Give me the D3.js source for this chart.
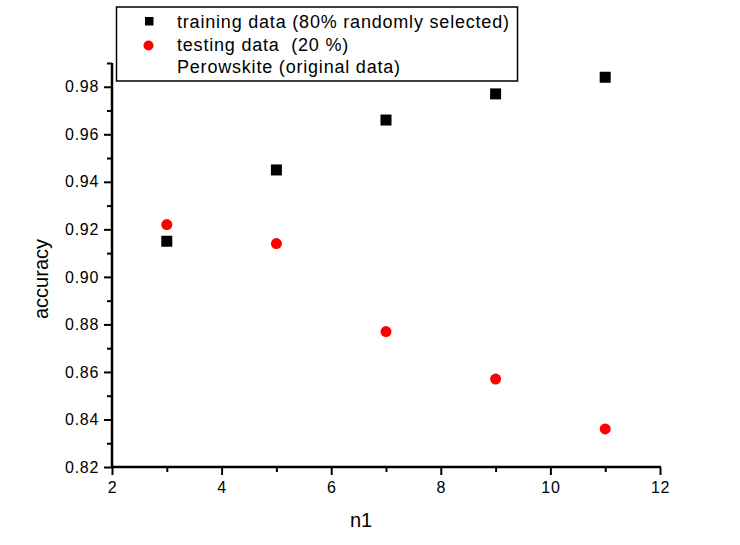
<!DOCTYPE html>
<html>
<head>
<meta charset="utf-8">
<script src="https://cdn.jsdelivr.net/npm/d3@7"></script>
<style>
  body { margin: 0; background: #fff; }
  text { font-family: "Liberation Sans", Arial, sans-serif; fill: #000; }
</style>
</head>
<body>
<svg id="chart" width="740" height="545"></svg>
<script>
// data
const n1 = [3, 5, 7, 9, 11];
const trainAcc = [0.915, 0.945, 0.966, 0.977, 0.984];
const testAcc = [0.922, 0.914, 0.877, 0.857, 0.836];
const legendLabels = ['training data (80% randomly selected)', 'testing data  (20 %)', 'Perowskite (original data)'];
const xTicks = [2, 4, 6, 8, 10, 12];
const yTicks = [0.82, 0.84, 0.86, 0.88, 0.90, 0.92, 0.94, 0.96, 0.98];

const svg = d3.select('#chart');
const mLeft = 112, mRight = 660, mTop = 63, mBottom = 467;

const x = d3.scaleLinear().domain([2, 12]).range([mLeft, mRight]);
const y = d3.scaleLinear().domain([0.82, 0.99]).range([mBottom, mTop]);

// axes (Origin style: left + bottom only, major + minor ticks outward)
let xAxis = svg.append('g').attr('transform', `translate(0,${mBottom})`)
    .call(d3.axisBottom(x).tickValues(xTicks).tickFormat(d3.format('d')).tickSize(8).tickPadding(7));
svg.append('g').attr('transform', `translate(0,${mBottom})`)
    .call(d3.axisBottom(x).tickValues(d3.range(3, 12, 2)).tickFormat('').tickSize(5))
    .select('.domain').remove();

let yAxis = svg.append('g').attr('transform', `translate(${mLeft},0)`)
    .call(d3.axisLeft(y).tickValues(yTicks).tickFormat(d3.format('.2f')).tickSize(8).tickPadding(5));
svg.append('g').attr('transform', `translate(${mLeft},0)`)
    .call(d3.axisLeft(y).tickValues(d3.range(0.83, 0.995, 0.02)).tickFormat('').tickSize(5))
    .select('.domain').remove();

svg.selectAll('.domain').attr('stroke-width', 2.5);
svg.selectAll('.tick line').attr('stroke-width', 2);
svg.selectAll('.tick text')
    .style('font-size', '16px')
    .style('letter-spacing', '0.7px')
    .style('font-family', '"Liberation Sans", Arial, sans-serif');
yAxis.select('.domain').attr('d', `M0,${mBottom + 1}V${mTop}`);
xAxis.select('.domain').attr('d', `M${mLeft},0H${mRight + 1}`);

// axis titles
svg.append('text').attr('x', 361).attr('y', 527).attr('text-anchor', 'middle')
    .style('font-size', '20px').text('n1');
svg.append('text').attr('transform', 'translate(48,279) rotate(-90)')
    .attr('text-anchor', 'middle').style('font-size', '20px').text('accuracy');

// points
const sq = 11;
svg.append('g').selectAll('rect').data(n1).join('rect')
    .attr('x', (d) => x(d) - sq / 2)
    .attr('y', (d, i) => y(trainAcc[i]) - sq / 2)
    .attr('width', sq).attr('height', sq).attr('fill', '#000');

svg.append('g').selectAll('circle').data(n1).join('circle')
    .attr('cx', (d) => x(d))
    .attr('cy', (d, i) => y(testAcc[i]))
    .attr('r', 5.5).attr('fill', '#ff0000');

// legend
const legend = svg.append('g');
legend.append('rect').attr('x', 116.5).attr('y', 7).attr('width', 401).attr('height', 74)
    .attr('fill', '#fff').attr('stroke', '#000').attr('stroke-width', 1.5);
const baseY = [28, 50.5, 73];
legend.append('rect').attr('x', 145).attr('y', 17).attr('width', 8.5).attr('height', 8.5).attr('fill', '#000');
legend.append('circle').attr('cx', 148.5).attr('cy', 45.5).attr('r', 5).attr('fill', '#ff0000');
legend.selectAll('text').data(legendLabels).join('text')
    .attr('x', 177).attr('y', (d, i) => baseY[i])
    .style('font-size', '18px').style('letter-spacing', '0.8px').style('white-space', 'pre')
    .text((d) => d);
</script>
</body>
</html>
